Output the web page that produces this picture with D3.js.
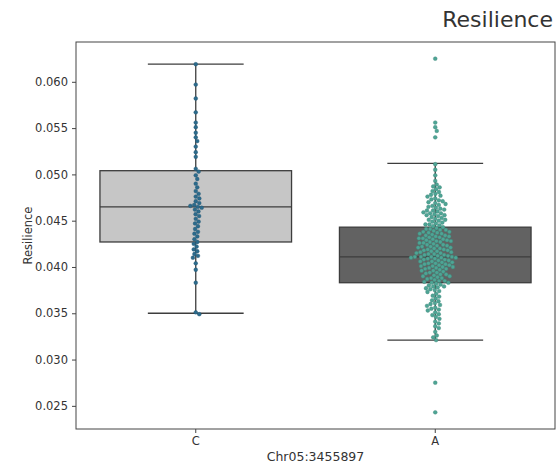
<!DOCTYPE html>
<html>
<head>
<meta charset="utf-8">
<script src="https://cdn.jsdelivr.net/npm/d3@7"></script>
<style>
  body { margin: 0; background: #fff; }
  svg text { font-family: "DejaVu Sans", sans-serif; fill: #333; }
</style>
</head>
<body>
<div id="vis"></div>
<script>
// set constants
const FRAME_WIDTH = 557;
const FRAME_HEIGHT = 468;
const AXES = {left: 76, right: 555, top: 42, bottom: 429};

// data
const categories = ["C", "A"];
const pointColors = ["#2c6b8c", "#4ea595"];
const boxColors = ["#c6c6c6", "#626262"];

const boxQ1 = [0.0427, 0.0383];
const boxMedian = [0.0465, 0.0411];
const boxQ3 = [0.0504, 0.0443];
const whiskerLow = [0.0350, 0.0321];
const whiskerHigh = [0.0619, 0.0512];

const yTicks = [0.025, 0.030, 0.035, 0.040, 0.045, 0.050, 0.055, 0.060];

const valuesC = [
  0.0619, 0.0597, 0.0582, 0.0567, 0.0556, 0.0551, 0.0545, 0.0540, 0.0536, 0.0530,
  0.0524, 0.0519, 0.0506, 0.0503, 0.0499, 0.0495, 0.0490, 0.0486, 0.0482, 0.0479,
  0.0476, 0.0474, 0.0471, 0.0469, 0.0467, 0.0466, 0.0465, 0.0464, 0.0462, 0.0460,
  0.0457, 0.0455, 0.0452, 0.0449, 0.0447, 0.0444, 0.0441, 0.0438, 0.0436, 0.0433,
  0.0430, 0.0427, 0.0425, 0.0422, 0.0419, 0.0417, 0.0414, 0.0412, 0.0410, 0.0404,
  0.0397, 0.0383, 0.0351, 0.0349
];

const valuesA = [
  0.0625, 0.0556, 0.0551, 0.0547, 0.0540,
  0.0511, 0.0505, 0.0499, 0.0493, 0.0489, 0.0487,
  0.0486, 0.0484, 0.0482, 0.0481, 0.0479, 0.0478, 0.0477,
  0.0476, 0.0474, 0.0473, 0.0472, 0.0471, 0.0470, 0.0469, 0.0468, 0.0467,
  0.0466, 0.0465, 0.0464, 0.0463, 0.0462, 0.0461,
  0.0461, 0.0460, 0.0459, 0.0458, 0.0458, 0.0457, 0.0456,
  0.0456, 0.0455, 0.0454, 0.0453, 0.0452, 0.0451,
  0.0451, 0.0450, 0.0449, 0.0448, 0.0447,
  0.0446, 0.0446, 0.0445, 0.0444, 0.0443, 0.0442,
  0.0441, 0.0441, 0.0440, 0.0440, 0.0439, 0.0438, 0.0438, 0.0437,
  0.0437, 0.0436, 0.0436, 0.0435, 0.0434, 0.0434, 0.0433, 0.0433, 0.0432,
  0.0432, 0.0431, 0.0431, 0.0430, 0.0430, 0.0429, 0.0429, 0.0428, 0.0428, 0.0427,
  0.0427, 0.0426, 0.0426, 0.0425, 0.0424, 0.0424, 0.0423, 0.0423, 0.0422,
  0.0422, 0.0421, 0.0421, 0.0420, 0.0420, 0.0419, 0.0419, 0.0418, 0.0418, 0.0417,
  0.0417, 0.0416, 0.0416, 0.0415, 0.0415, 0.0414, 0.0414, 0.0413, 0.0413, 0.0412, 0.0412,
  0.0411, 0.0411, 0.0411, 0.0411, 0.0410, 0.0410, 0.0410, 0.0409, 0.0409, 0.0408, 0.0408, 0.0407, 0.0407,
  0.0406, 0.0406, 0.0405, 0.0405, 0.0404, 0.0404, 0.0403, 0.0403, 0.0402, 0.0402,
  0.0401, 0.0401, 0.0400, 0.0400, 0.0399, 0.0399, 0.0398, 0.0398, 0.0397,
  0.0396, 0.0396, 0.0395, 0.0394, 0.0394, 0.0393, 0.0392, 0.0392,
  0.0391, 0.0390, 0.0390, 0.0389, 0.0388, 0.0388, 0.0387,
  0.0386, 0.0385, 0.0385, 0.0384, 0.0383, 0.0383, 0.0382,
  0.0381, 0.0380, 0.0379, 0.0379, 0.0378, 0.0377,
  0.0376, 0.0375, 0.0374, 0.0373,
  0.0371, 0.0369, 0.0368,
  0.0366, 0.0364, 0.0363,
  0.0361, 0.0360, 0.0359, 0.0358,
  0.0356, 0.0355, 0.0354, 0.0353,
  0.0351, 0.0349, 0.0348,
  0.0346, 0.0344, 0.0341, 0.0339, 0.0336, 0.0334,
  0.0330, 0.0326, 0.0324, 0.0321,
  0.0275, 0.0243
];

const groups = [valuesC, valuesA];

// make svg frame
const FRAME = d3.select("#vis")
                  .append("svg")
                    .attr("width", FRAME_WIDTH)
                    .attr("height", FRAME_HEIGHT);

const X_SCALE = d3.scaleBand()
                    .domain(categories)
                    .range([AXES.left, AXES.right])
                    .paddingInner(0.2)
                    .paddingOuter(0.1);

const Y_SCALE = d3.scaleLinear()
                    .domain([0.0225, 0.0643])
                    .range([AXES.bottom, AXES.top]);

const LINE = "#3d3d3d";

// boxes
categories.forEach((cat, i) => {
  const x0 = X_SCALE(cat);
  const bw = X_SCALE.bandwidth();
  const cx = x0 + bw / 2;
  const g = FRAME.append("g");

  // whiskers
  g.append("line")
    .attr("x1", cx).attr("x2", cx)
    .attr("y1", Y_SCALE(boxQ3[i])).attr("y2", Y_SCALE(whiskerHigh[i]))
    .attr("stroke", LINE).attr("stroke-width", 1.3);
  g.append("line")
    .attr("x1", cx).attr("x2", cx)
    .attr("y1", Y_SCALE(boxQ1[i])).attr("y2", Y_SCALE(whiskerLow[i]))
    .attr("stroke", LINE).attr("stroke-width", 1.3);
  [whiskerHigh[i], whiskerLow[i]].forEach(v => {
    g.append("line")
      .attr("x1", cx - bw / 4).attr("x2", cx + bw / 4)
      .attr("y1", Y_SCALE(v)).attr("y2", Y_SCALE(v))
      .attr("stroke", LINE).attr("stroke-width", 1.3);
  });

  g.append("rect")
    .attr("x", x0)
    .attr("y", Y_SCALE(boxQ3[i]))
    .attr("width", bw)
    .attr("height", Y_SCALE(boxQ1[i]) - Y_SCALE(boxQ3[i]))
    .attr("fill", boxColors[i])
    .attr("stroke", LINE)
    .attr("stroke-width", 1.3);

  g.append("line")
    .attr("x1", x0).attr("x2", x0 + bw)
    .attr("y1", Y_SCALE(boxMedian[i])).attr("y2", Y_SCALE(boxMedian[i]))
    .attr("stroke", LINE).attr("stroke-width", 1.3);
});

// swarm layout: place each point as close to the centre as it can go
const R = 1.9;
const D = 2 * R + 0.2;

function swarm(values, cx) {
  const pts = values.map(v => ({v: v, y: Y_SCALE(v)}))
                    .sort((a, b) => a.y - b.y);
  const placed = [];
  pts.forEach(p => {
    const near = placed.filter(q => Math.abs(q.y - p.y) < D);
    let cands = [0];
    near.forEach(q => {
      const dx = Math.sqrt(D * D - (q.y - p.y) * (q.y - p.y));
      cands.push(q.dx + dx, q.dx - dx);
    });
    cands.sort((a, b) => Math.abs(a) - Math.abs(b));
    for (const c of cands) {
      const ok = near.every(q => {
        const ddx = q.dx - c, ddy = q.y - p.y;
        return ddx * ddx + ddy * ddy >= D * D - 0.01;
      });
      if (ok) { p.dx = c; break; }
    }
    placed.push(p);
  });
  return placed.map(p => ({x: cx + p.dx, y: p.y}));
}

groups.forEach((vals, i) => {
  const cx = X_SCALE(categories[i]) + X_SCALE.bandwidth() / 2;
  FRAME.append("g").selectAll("circle")
    .data(swarm(vals, cx))
    .enter()
    .append("circle")
      .attr("cx", d => d.x)
      .attr("cy", d => d.y)
      .attr("r", R)
      .attr("fill", pointColors[i])
      .attr("stroke", d3.color(pointColors[i]).darker(0.6))
      .attr("stroke-width", 0.4);
});

// frame
FRAME.append("rect")
  .attr("x", AXES.left).attr("y", AXES.top)
  .attr("width", AXES.right - AXES.left)
  .attr("height", AXES.bottom - AXES.top)
  .attr("fill", "none")
  .attr("stroke", "#444")
  .attr("stroke-width", 1);

// y axis
const yAxis = FRAME.append("g")
  .attr("transform", "translate(" + AXES.left + ",0)")
  .call(d3.axisLeft(Y_SCALE).tickValues(yTicks).tickFormat(d3.format(".3f")).tickSize(4).tickPadding(4));
yAxis.select(".domain").remove();
yAxis.selectAll("line").attr("stroke", "#444");
yAxis.selectAll("text").attr("font-size", "11.5px").style("font-family", "DejaVu Sans, sans-serif").attr("fill", "#333");

// x axis
const xAxis = FRAME.append("g")
  .attr("transform", "translate(0," + AXES.bottom + ")")
  .call(d3.axisBottom(X_SCALE).tickSize(4).tickPadding(4));
xAxis.select(".domain").remove();
xAxis.selectAll("line").attr("stroke", "#444");
xAxis.selectAll("text").attr("font-size", "11.5px").style("font-family", "DejaVu Sans, sans-serif").attr("fill", "#333");

// labels
FRAME.append("text")
  .attr("x", (AXES.left + AXES.right) / 2)
  .attr("y", 461)
  .attr("text-anchor", "middle")
  .attr("font-size", "12.5px")
  .text("Chr05:3455897");

FRAME.append("text")
  .attr("transform", "translate(32," + ((AXES.top + AXES.bottom) / 2) + ") rotate(-90)")
  .attr("text-anchor", "middle")
  .attr("font-size", "11.5px")
  .text("Resilience");

FRAME.append("text")
  .attr("x", 553)
  .attr("y", 27)
  .attr("text-anchor", "end")
  .attr("font-size", "22px")
  .text("Resilience");
</script>
</body>
</html>
